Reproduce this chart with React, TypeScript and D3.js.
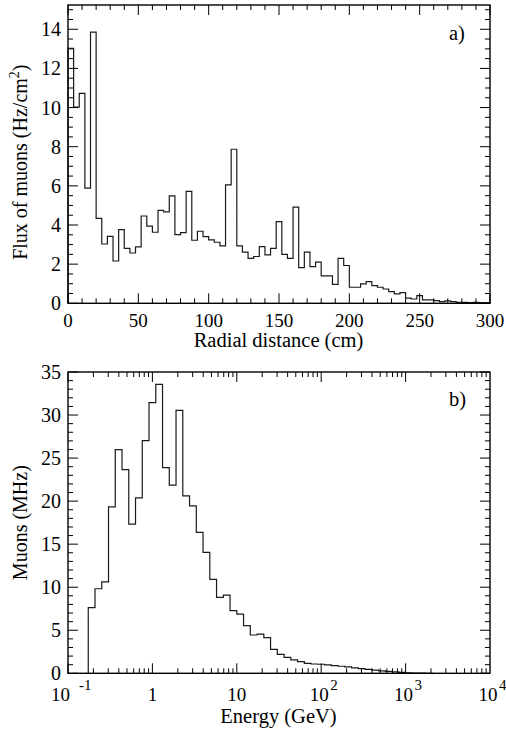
import React from 'react';
import * as d3 from 'd3';

// ---------- Panel a) : flux of muons vs radial distance ----------
const radialBinWidth = 4; // cm
const radialFlux = [
  13.03, 10.02, 10.73, 5.88, 13.85, 4.34, 3.03, 3.42, 2.16, 3.76,
  2.81, 2.57, 2.88, 4.46, 3.94, 3.63, 4.75, 4.67, 5.49, 3.51,
  3.61, 5.72, 3.22, 3.68, 3.41, 3.24, 3.12, 2.93, 6.05, 7.87,
  2.93, 2.61, 2.30, 2.39, 2.90, 2.47, 2.81, 4.17, 2.50, 2.30,
  4.91, 1.82, 2.61, 1.87, 2.10, 1.40, 1.40, 0.97, 2.30, 1.93,
  0.82, 0.82, 0.99, 1.11, 0.90, 0.82, 0.73, 0.60, 0.48, 0.55,
  0.26, 0.22, 0.39, 0.17, 0.17, 0.14, 0.09, 0.12, 0.09, 0.05,
  0.05, 0.03, 0.05, 0.03, 0.03,
];
const radialTicks = [0, 50, 100, 150, 200, 250, 300];
const fluxTicks = [0, 2, 4, 6, 8, 10, 12, 14];

// ---------- Panel b) : muons vs energy ----------
const logEnergyStart = -0.76; // log10(GeV) of first bin edge
const logEnergyBinWidth = 0.08;
const muonRate = [
  7.62, 9.82, 10.63, 19.33, 25.99, 23.67, 17.32, 20.38, 27.03, 31.44,
  33.57, 23.9, 21.85, 30.55, 20.61, 19.45, 16.36, 14.04, 10.9, 8.82,
  9.09, 7.27, 6.88, 5.53, 4.45, 4.56, 4.14, 2.78, 2.2, 1.86,
  1.55, 1.35, 1.16, 1.08, 1.05, 0.98, 0.9, 0.82, 0.74, 0.64,
  0.55, 0.45, 0.37, 0.29, 0.22, 0.16, 0.1, 0.06, 0.03, 0.015, 0.005,
];
const energyTickExponents = [-1, 0, 1, 2, 3, 4];
const rateTicks = [0, 5, 10, 15, 20, 25, 30, 35];

const FONT = "'Liberation Serif', 'Times New Roman', Times, serif";

const L = 68;
const R = 490;
const A_TOP = 5;
const A_BOT = 303.3;
const B_TOP = 372;
const B_BOT = 673.3;
const MAJ = 10;
const MIN = 5;

function stepPath(edges: number[], vals: number[], x: (v: number) => number, y: (v: number) => number) {
  const pts: [number, number][] = [];
  pts.push([x(edges[0]), y(0)]);
  vals.forEach((v, i) => {
    pts.push([x(edges[i]), y(v)]);
    pts.push([x(edges[i + 1]), y(v)]);
  });
  pts.push([x(edges[edges.length - 1]), y(0)]);
  return d3.line()(pts) || '';
}

export default function App() {
  const xa = d3.scaleLinear().domain([0, 300]).range([L, R]);
  const ya = d3.scaleLinear().domain([0, 15.24]).range([A_BOT, A_TOP]);
  const edgesA = d3.range(radialFlux.length + 1).map((i) => i * radialBinWidth);
  const pathA = stepPath(edgesA, radialFlux, xa, ya);

  const xb = d3.scaleLog().domain([0.1, 1e4]).range([L, R]);
  const yb = d3.scaleLinear().domain([0, 35]).range([B_BOT, B_TOP]);
  const edgesB = d3.range(muonRate.length + 1).map((i) => Math.pow(10, logEnergyStart + i * logEnergyBinWidth));
  const pathB = stepPath(edgesB, muonRate, xb, yb);

  const ticksA: any[] = [];
  d3.range(0, 301, 10).forEach((v) => {
    const len = v % 50 === 0 ? MAJ : MIN;
    const px = xa(v);
    ticksA.push(<line key={'ab' + v} x1={px} x2={px} y1={A_BOT} y2={A_BOT - len} />);
    ticksA.push(<line key={'at' + v} x1={px} x2={px} y1={A_TOP} y2={A_TOP + len} />);
  });
  d3.range(0, 15.01, 0.5).forEach((v) => {
    const len = Math.abs(v % 2) < 1e-6 ? MAJ : MIN;
    const py = ya(v);
    ticksA.push(<line key={'al' + v} x1={L} x2={L + len} y1={py} y2={py} />);
    ticksA.push(<line key={'ar' + v} x1={R} x2={R - len} y1={py} y2={py} />);
  });

  const ticksB: any[] = [];
  for (let e = -1; e < 4; e++) {
    for (let m = 1; m <= 9; m++) {
      const v = m * Math.pow(10, e);
      const len = m === 1 ? MAJ : MIN;
      const px = xb(v);
      ticksB.push(<line key={'bb' + v} x1={px} x2={px} y1={B_BOT} y2={B_BOT - len} />);
      ticksB.push(<line key={'bt' + v} x1={px} x2={px} y1={B_TOP} y2={B_TOP + len} />);
    }
  }
  d3.range(0, 35.01, 1).forEach((v) => {
    const len = v % 5 === 0 ? MAJ : MIN;
    const py = yb(v);
    ticksB.push(<line key={'bl' + v} x1={L} x2={L + len} y1={py} y2={py} />);
    ticksB.push(<line key={'br' + v} x1={R} x2={R - len} y1={py} y2={py} />);
  });

  const energyLabel = (e: number) => {
    const px = xb(Math.pow(10, e));
    const base = 701;
    if (e === 0) return <text key={'el' + e} x={px} y={base} textAnchor="middle" fontSize={19}>1</text>;
    if (e === 1) return <text key={'el' + e} x={px} y={base} textAnchor="middle" fontSize={19}>10</text>;
    if (e === -1)
      return (
        <g key={'el' + e}>
          <text x={px + 2} y={base} textAnchor="end" fontSize={19}>10</text>
          <text x={px + 11} y={base - 11} textAnchor="start" fontSize={15}>-1</text>
        </g>
      );
    return (
      <g key={'el' + e}>
        <text x={px - 2} y={base} textAnchor="middle" fontSize={19}>10</text>
        <text x={px + 9} y={base - 11} textAnchor="start" fontSize={15}>{String(e)}</text>
      </g>
    );
  };

  return (
    <svg
      width={506}
      height={735}
      style={{ position: 'absolute', left: 0, top: 0, background: '#fff', fontFamily: FONT }}
    >
      <rect x={0} y={0} width={506} height={735} fill="#fff" />
      {/* Panel a */}
      <path d={pathA} fill="none" stroke="#1a1a1a" strokeWidth={1.2} />
      <g stroke="#000" strokeWidth={1}>{ticksA}</g>
      <rect x={L} y={A_TOP} width={R - L} height={A_BOT - A_TOP} fill="none" stroke="#000" strokeWidth={1.4} />
      {fluxTicks.map((v) => (
        <text key={'fy' + v} x={61} y={ya(v)} dy="0.35em" textAnchor="end" fontSize={20}>{v}</text>
      ))}
      {radialTicks.map((v) => (
        <text key={'fx' + v} x={xa(v)} y={327} textAnchor="middle" fontSize={19}>{v}</text>
      ))}
      <text x={278.5} y={347} textAnchor="middle" fontSize={20.5}>Radial distance (cm)</text>
      <text transform={`translate(27,${(A_TOP + A_BOT) / 2 + 8}) rotate(-90)`} textAnchor="middle" fontSize={20}>
        Flux of muons (Hz/cm<tspan dy={-8} fontSize={14}>2</tspan><tspan dy={8}>)</tspan>
      </text>
      <text x={449} y={40} fontSize={20.5}>a)</text>

      {/* Panel b */}
      <path d={pathB} fill="none" stroke="#1a1a1a" strokeWidth={1.2} />
      <g stroke="#000" strokeWidth={1}>{ticksB}</g>
      <rect x={L} y={B_TOP} width={R - L} height={B_BOT - B_TOP} fill="none" stroke="#000" strokeWidth={1.4} />
      {rateTicks.map((v) => (
        <text key={'ry' + v} x={61} y={yb(v)} dy="0.35em" textAnchor="end" fontSize={20}>{v}</text>
      ))}
      {energyTickExponents.map(energyLabel)}
      <text x={278.5} y={723} textAnchor="middle" fontSize={20.5}>Energy (GeV)</text>
      <text transform={`translate(27,${(B_TOP + B_BOT) / 2}) rotate(-90)`} textAnchor="middle" fontSize={20}>
        Muons (MHz)
      </text>
      <text x={449} y={406} fontSize={20.5}>b)</text>
    </svg>
  );
}
